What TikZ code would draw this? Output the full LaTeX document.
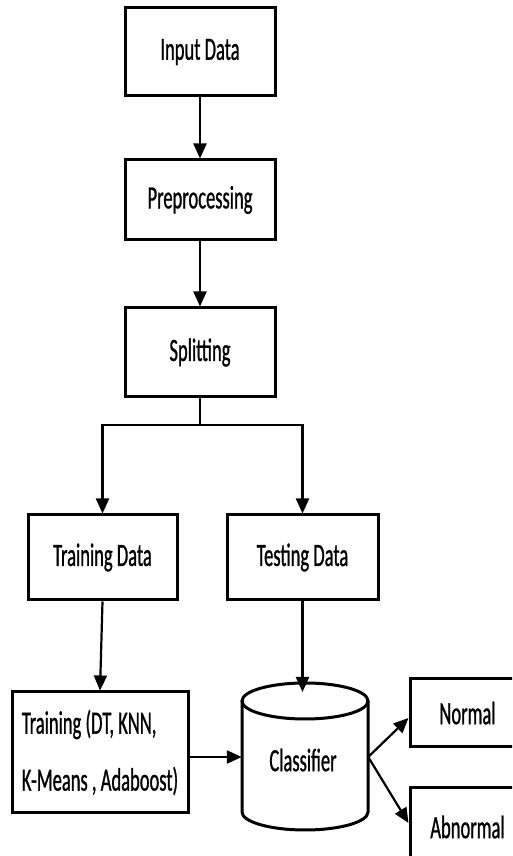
\documentclass[tikz,border=0pt]{standalone}
\usepackage{fontspec}
\setmainfont{Carlito}[FakeStretch=0.57,FakeBold=0.8]
\usetikzlibrary{arrows.meta}
\begin{document}
\begin{tikzpicture}[x=1pt,y=1pt,
  box/.style={draw=black, line width=3pt, fill=white, inner sep=0pt,
    font=\fontsize{32.5}{57}\selectfont},
  conn/.style={draw=black, line width=2.2pt, -{Triangle[length=15pt,width=13pt]}},
  plain/.style={draw=black, line width=2.2pt}]
\fill[white] (0,0) rectangle (512,856);
\useasboundingbox (0,0) rectangle (512,856);
\clip (0,0) rectangle (512,856);
\node[box, minimum width=150, minimum height=88] (in) at (200,804) {Input Data};
\node[box, minimum width=150, minimum height=80] (pre) at (200,656) {Preprocessing};
\node[box, minimum width=150, minimum height=89] (spl) at (200,503.5) {Splitting};
\node[box, minimum width=149, minimum height=85] (trd) at (102.5,298.5) {Training Data};
\node[box, minimum width=151, minimum height=85] (ted) at (302.5,298.5) {Testing Data};
\node[box, minimum width=176, minimum height=121, align=left] (tr) at (100,103.5) {Training (DT, KNN,\\K-Means , Adaboost)};
% classifier cylinder
\node[minimum width=126, minimum height=147, inner sep=0pt] (cls) at (305,99) {};
\draw[line width=3pt, fill=white] (242,155) -- (242,44) arc[start angle=180, end angle=360, x radius=63, y radius=18] -- (368,155);
\draw[line width=3pt] (305,155) ellipse[x radius=63, y radius=18];
\node[font=\fontsize{32.5}{36}\selectfont] (clst) at (303,96) {Classifier};
\node[box, minimum width=115, minimum height=68] (nor) at (467.5,143) {Normal};
\node[box, minimum width=115, minimum height=78] (abn) at (467.5,29) {Abnormal};
\coordinate (j) at (200,431);
\coordinate (ctop) at (305,164);
\draw[conn] (in.south) -- (pre.north);
\draw[conn] (pre.south) -- (spl.north);
\draw[plain] (spl.south) -- (j);
\draw[conn] (j) -| (trd.north);
\draw[conn] (j) -| (ted.north);
\draw[conn] (trd.south) -- (tr.north);
\draw[conn] (ted.south) -- (ted.south |- ctop);
\draw[conn] (tr.east |- cls.west) -- (cls.west);
\draw[conn] (cls.east) -- (nor.west |- 0,138);
\draw[conn] (cls.east) -- (abn.west |- 0,33);
\end{tikzpicture}
\end{document}
